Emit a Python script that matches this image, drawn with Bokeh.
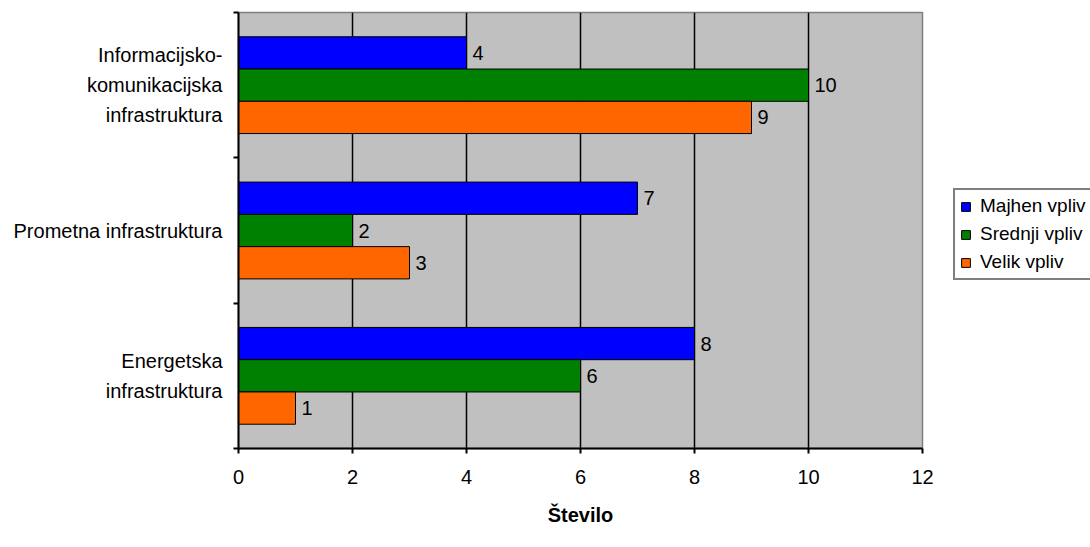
from bokeh.plotting import figure
from bokeh.models import ColumnDataSource, FixedTicker, Legend, LegendItem, Range1d
from bokeh.layouts import row
from bokeh.transform import dodge
from bokeh.core.properties import value
from bokeh.embed import file_html
from bokeh.resources import INLINE

# ---- data ----
categories = ["Energetska\ninfrastruktura", "Prometna infrastruktura",
              "Informacijsko-\nkomunikacijska\ninfrastruktura"]
series_names = ["Majhen vpliv", "Srednji vpliv", "Velik vpliv"]
majhen = [8, 7, 4]
srednji = [6, 2, 10]
velik = [1, 3, 9]
x_ticks = [0, 2, 4, 6, 8, 10, 12]
x_title = "Število"

colors = ["#0000FF", "#008000", "#FF6600"]
FONT = "Liberation Sans"

pos = [i + 0.5 for i in range(len(categories))]
src = ColumnDataSource(dict(y=pos, majhen=majhen, srednji=srednji, velik=velik,
                            lm=[str(v) for v in majhen],
                            ls=[str(v) for v in srednji],
                            lv=[str(v) for v in velik]))

p = figure(width=940, height=547, output_backend="svg", toolbar_location=None,
           x_range=Range1d(0, 12), y_range=Range1d(0, 3),
           min_border_left=238, min_border_right=18, min_border_top=12, min_border_bottom=99)
p.background_fill_color = "#C0C0C0"
p.border_fill_color = "white"
p.outline_line_color = "#808080"
p.outline_line_width = 1.5

bw = 0.222
cols = ["majhen", "srednji", "velik"]
lcols = ["lm", "ls", "lv"]
offs = [bw, 0.0, -bw]
for c, lc, off, col in zip(cols, lcols, offs, colors):
    p.hbar(y=dodge("y", off, range=p.y_range), right=c, left=0, height=bw,
           source=src, fill_color=col, line_color="black", line_width=1)
    p.text(x=c, y=dodge("y", off, range=p.y_range), text=lc, source=src,
           x_offset=6, text_baseline="middle", text_align="left",
           text_font=value(FONT), text_font_size="20px", text_color="black")

# x axis
p.xaxis.ticker = FixedTicker(ticks=x_ticks)
p.xaxis.axis_label = x_title
p.xaxis.axis_label_text_font = FONT
p.xaxis.axis_label_text_font_size = "20px"
p.xaxis.axis_label_text_font_style = "bold"
p.xaxis.axis_label_text_color = "black"
p.xaxis.axis_label_standoff = 17
p.xaxis.major_label_text_font = FONT
p.xaxis.major_label_text_font_size = "20px"
p.xaxis.major_label_text_color = "black"
p.xaxis.major_label_standoff = 16
p.xaxis.axis_line_color = "black"
p.xaxis.axis_line_width = 2
p.xaxis.major_tick_line_color = "black"
p.xaxis.major_tick_line_width = 2
p.xaxis.major_tick_out = 5
p.xaxis.major_tick_in = 0
p.xaxis.minor_tick_line_color = None

# y axis
p.yaxis.ticker = FixedTicker(ticks=pos, minor_ticks=[0, 1, 2, 3])
p.yaxis.major_label_overrides = {pv: c for pv, c in zip(pos, categories)}
p.yaxis.major_label_text_font = FONT
p.yaxis.major_label_text_font_size = "20px"
p.yaxis.major_label_text_color = "black"
p.yaxis.major_label_text_line_height = 1.35
p.yaxis.major_label_text_align = "center"
p.yaxis.major_label_standoff = 11
p.yaxis.major_tick_out = 0
p.yaxis.major_tick_in = 0
p.yaxis.minor_tick_out = 5
p.yaxis.minor_tick_in = 0
p.yaxis.minor_tick_line_color = "black"
p.yaxis.minor_tick_line_width = 2
p.yaxis.axis_line_color = "black"
p.yaxis.axis_line_width = 2

# grid
p.xgrid.ticker = FixedTicker(ticks=[2, 4, 6, 8, 10])
p.xgrid.grid_line_color = "black"
p.xgrid.grid_line_width = 1.5
p.ygrid.grid_line_color = None

# ---- legend panel (separate figure to the right) ----
p2 = figure(width=150, height=547, output_backend="svg", toolbar_location=None,
            x_range=Range1d(0, 1), y_range=Range1d(0, 1),
            min_border_left=0, min_border_right=0, min_border_top=0, min_border_bottom=0)
p2.axis.visible = False
p2.grid.visible = False
p2.outline_line_color = None
p2.background_fill_color = "white"
leg_renderers = []
for c, off, col in zip(cols, offs, colors):
    r = p2.hbar(y=dodge("y", off, range=p2.y_range), right=c, left=0, height=bw,
                source=src, fill_color=col, line_color="black", line_width=1, visible=False)
    leg_renderers.append(r)

legend = Legend(items=[LegendItem(label=n, renderers=[r]) for n, r in zip(series_names, leg_renderers)],
                location=(13, 168))
legend.label_text_font = FONT
legend.label_text_font_size = "19px"
legend.label_text_color = "black"
legend.glyph_width = 11
legend.glyph_height = 11
legend.label_standoff = 9
legend.label_height = 20
legend.spacing = 6
legend.padding = 5
legend.margin = 0
legend.border_line_color = "black"
legend.border_line_width = 2
legend.background_fill_color = "white"
legend.background_fill_alpha = 1
p2.add_layout(legend, "center")

layout = row(p, p2)
open("out.html", "w").write(file_html(layout, INLINE))
